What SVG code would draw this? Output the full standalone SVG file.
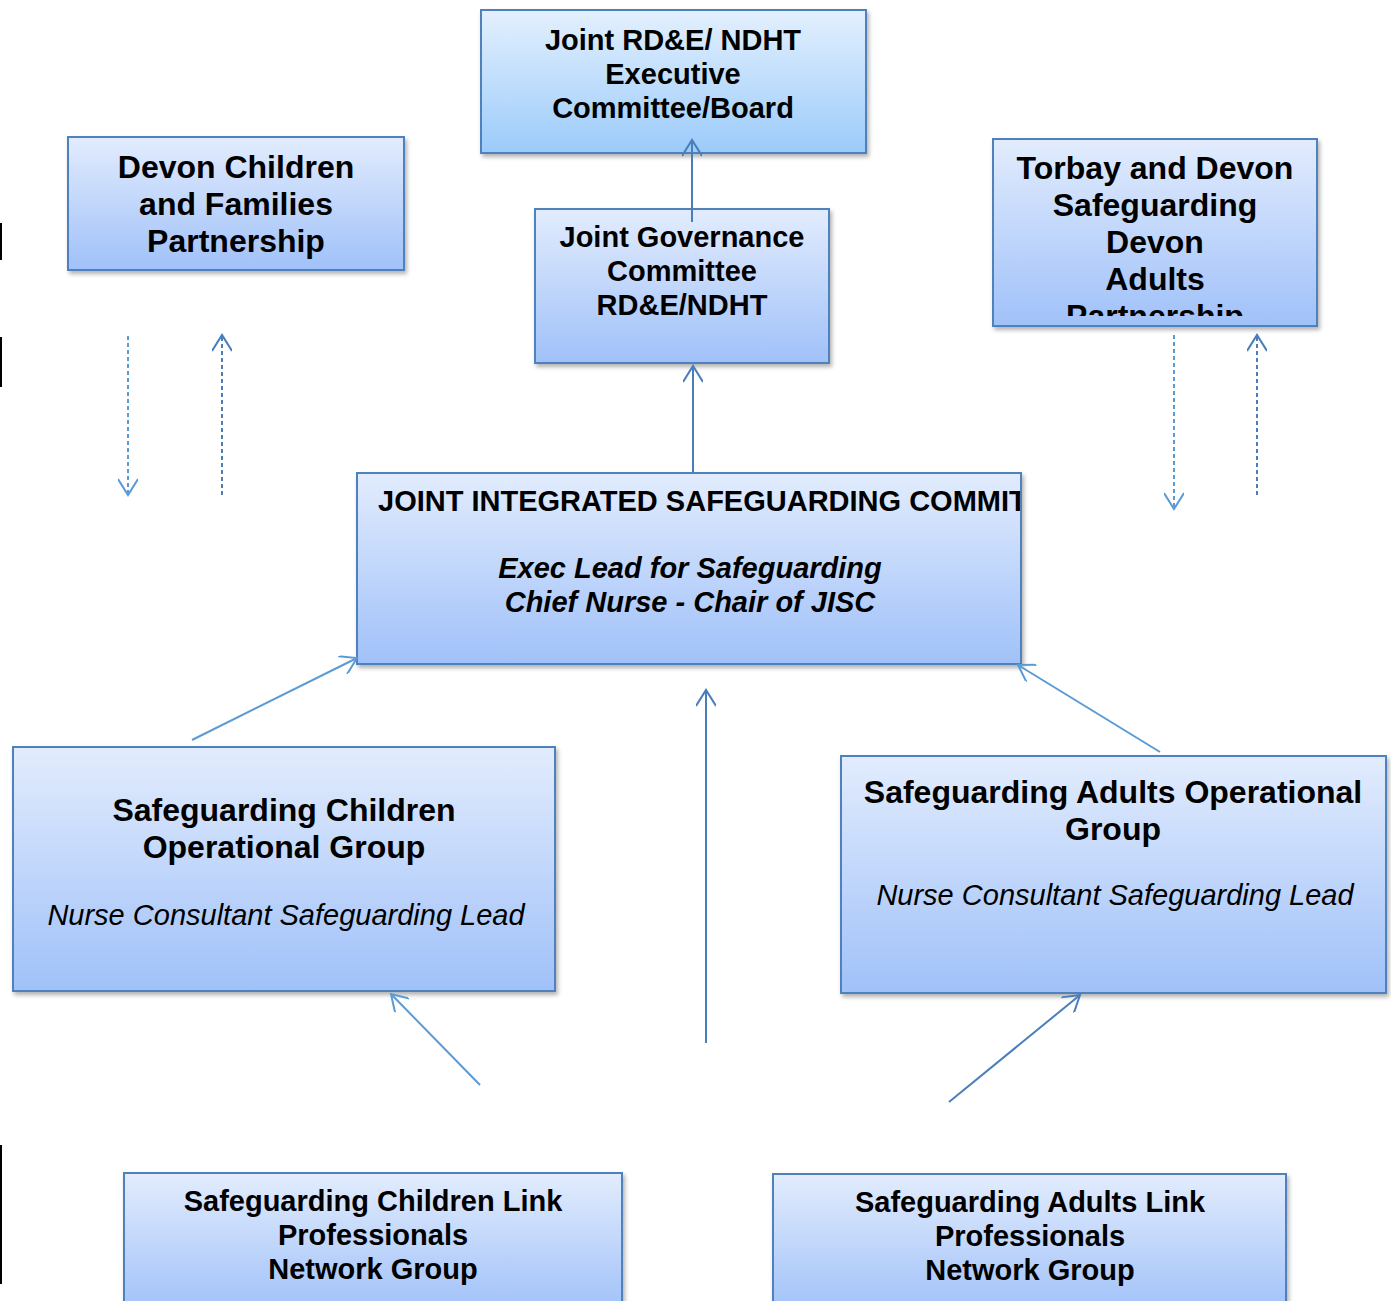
<svg xmlns="http://www.w3.org/2000/svg" width="1391" height="1301" viewBox="0 0 1391 1301">
<style>
.box{fill:url(#g);stroke:#4f81bd;stroke-width:2;filter:url(#sh)}
.boxtop{fill:url(#g2);stroke:#4f81bd;stroke-width:2;filter:url(#sh)}
.t{font-family:"Liberation Sans",Arial,sans-serif;font-weight:bold;font-size:29px;fill:#000;text-anchor:middle}
.t32{font-size:32px}
.bi{font-style:italic}
.it{font-family:"Liberation Sans",Arial,sans-serif;font-style:italic;font-size:29px;fill:#000;text-anchor:middle}
.c{fill:none;stroke:#4a7ebb;stroke-width:2}
.cl{fill:none;stroke:#5b9bd5;stroke-width:2}
.d{stroke-dasharray:4 3}
</style>
<defs>
<linearGradient id="g" x1="0" y1="0" x2="0" y2="1">
<stop offset="0" stop-color="#e2ecfd"/>
<stop offset="1" stop-color="#a0c1f9"/>
</linearGradient>
<linearGradient id="g2" x1="0" y1="0" x2="0" y2="1">
<stop offset="0" stop-color="#e3f0fe"/>
<stop offset="1" stop-color="#9ccbfa"/>
</linearGradient>
<filter id="sh" x="-5%" y="-5%" width="115%" height="120%">
<feDropShadow dx="2" dy="3" stdDeviation="2" flood-color="#000" flood-opacity="0.3"/>
</filter>
<marker id="a" viewBox="0 0 20 20" refX="17" refY="10" markerWidth="20" markerHeight="20" markerUnits="userSpaceOnUse" orient="auto">
<path d="M1,0 L17,10 L1,20" fill="none" stroke="context-stroke" stroke-width="2"/>
</marker>
<marker id="ab" viewBox="0 0 20 20" refX="17" refY="10" markerWidth="20" markerHeight="20" markerUnits="userSpaceOnUse" orient="auto">
<path d="M1,0 L17,10 L1,20" fill="none" stroke="#4a7ebb" stroke-width="2"/>
</marker>
<marker id="al" viewBox="0 0 20 20" refX="17" refY="10" markerWidth="20" markerHeight="20" markerUnits="userSpaceOnUse" orient="auto">
<path d="M1,0 L17,10 L1,20" fill="none" stroke="#5b9bd5" stroke-width="2"/>
</marker>
<clipPath id="clipT"><rect x="994" y="140" width="322" height="176"/></clipPath>
<clipPath id="clipJ"><rect x="358" y="474" width="662" height="189"/></clipPath>
</defs>
<rect width="1391" height="1301" fill="#fff"/>
<g id="edge-marks" fill="#000">
<rect x="0" y="223" width="2" height="37"/>
<rect x="0" y="337" width="2" height="50"/>
<rect x="0" y="1145" width="2" height="139"/>
</g>
<g id="n-exec">
<rect class="boxtop" x="481" y="10" width="385" height="143"/>
<text class="t" x="673" y="50">Joint RD&amp;E/ NDHT</text>
<text class="t" x="673" y="84">Executive</text>
<text class="t" x="673" y="118">Committee/Board</text>
</g>
<g id="n-devon">
<rect class="box" x="68" y="137" width="336" height="133"/>
<text class="t t32" x="236" y="178">Devon Children</text>
<text class="t t32" x="236" y="215">and Families</text>
<text class="t t32" x="236" y="252">Partnership</text>
</g>
<g id="n-gov">
<rect class="box" x="535" y="209" width="294" height="154"/>
<text class="t" x="682" y="247">Joint Governance</text>
<text class="t" x="682" y="281">Committee</text>
<text class="t" x="682" y="315">RD&amp;E/NDHT</text>
</g>
<g id="n-torbay">
<rect class="box" x="993" y="139" width="324" height="187"/>
<g clip-path="url(#clipT)">
<text class="t t32" x="1155" y="179">Torbay and Devon</text>
<text class="t t32" x="1155" y="216">Safeguarding</text>
<text class="t t32" x="1155" y="253">Devon</text>
<text class="t t32" x="1155" y="290">Adults</text>
<text class="t t32" x="1155" y="327">Partnership</text>
</g>
</g>
<g id="n-jisc">
<rect class="box" x="357" y="473" width="664" height="191"/>
<g clip-path="url(#clipJ)">
<text class="t" x="378" y="511" style="text-anchor:start">JOINT INTEGRATED SAFEGUARDING COMMIT</text>
</g>
<text class="t bi" x="690" y="578">Exec Lead for Safeguarding</text>
<text class="t bi" x="690" y="612">Chief Nurse - Chair of JISC</text>
</g>
<g id="n-child-op">
<rect class="box" x="13" y="747" width="542" height="244"/>
<text class="t t32" x="284" y="821">Safeguarding Children</text>
<text class="t t32" x="284" y="858">Operational Group</text>
<text class="it" x="286" y="925">Nurse Consultant Safeguarding Lead</text>
</g>
<g id="n-adult-op">
<rect class="box" x="841" y="756" width="545" height="237"/>
<text class="t t32" x="1113" y="803">Safeguarding Adults Operational</text>
<text class="t t32" x="1113" y="840">Group</text>
<text class="it" x="1115" y="905">Nurse Consultant Safeguarding Lead</text>
</g>
<g id="n-child-link">
<rect class="box" x="124" y="1173" width="498" height="140"/>
<text class="t" x="373" y="1211">Safeguarding Children Link</text>
<text class="t" x="373" y="1245">Professionals</text>
<text class="t" x="373" y="1279">Network Group</text>
</g>
<g id="n-adult-link">
<rect class="box" x="773" y="1174" width="513" height="140"/>
<text class="t" x="1030" y="1212">Safeguarding Adults Link</text>
<text class="t" x="1030" y="1246">Professionals</text>
<text class="t" x="1030" y="1280">Network Group</text>
</g>
<g id="connectors">
<line class="c" x1="692" y1="222" x2="692" y2="140" marker-end="url(#ab)"/>
<line class="c" x1="693" y1="472" x2="693" y2="366" marker-end="url(#ab)"/>
<line class="cl d" x1="128" y1="336" x2="128" y2="495" marker-end="url(#al)"/>
<line class="c d" x1="222" y1="495" x2="222" y2="335" marker-end="url(#ab)"/>
<line class="cl d" x1="1174" y1="335" x2="1174" y2="509" marker-end="url(#al)"/>
<line class="c d" x1="1257" y1="495" x2="1257" y2="335" marker-end="url(#ab)"/>
<line class="cl" x1="192" y1="740" x2="357" y2="658" marker-end="url(#al)"/>
<line class="cl" x1="1160" y1="752" x2="1018" y2="665" marker-end="url(#al)"/>
<line class="c" x1="706" y1="1043" x2="706" y2="690" marker-end="url(#ab)"/>
<line class="cl" x1="480" y1="1085" x2="391" y2="994" marker-end="url(#al)"/>
<line class="c" x1="949" y1="1102" x2="1080" y2="995" marker-end="url(#ab)"/>
</g>
</svg>
